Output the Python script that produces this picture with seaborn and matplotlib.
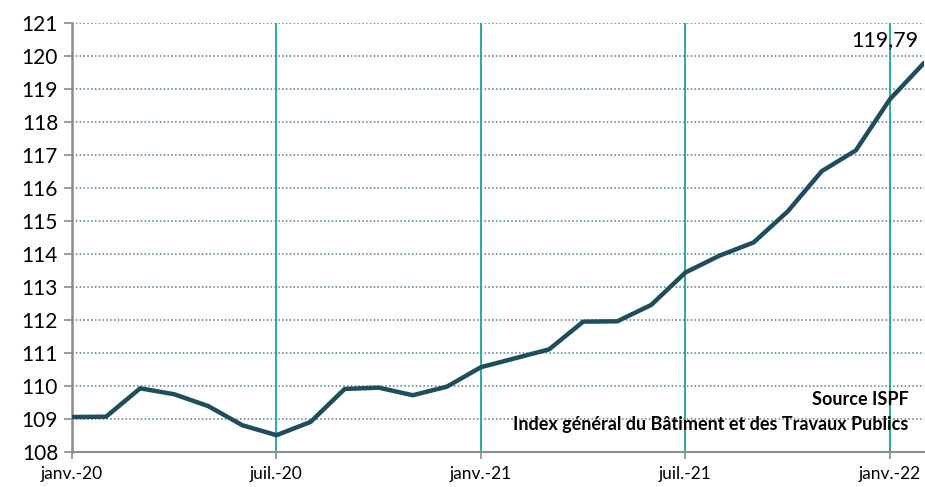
import matplotlib
matplotlib.use("Agg")
import matplotlib.pyplot as plt
import seaborn as sns
import pandas as pd

months = ["janv.-20", "févr.-20", "mars-20", "avr.-20", "mai-20", "juin-20",
          "juil.-20", "août-20", "sept.-20", "oct.-20", "nov.-20", "déc.-20",
          "janv.-21", "févr.-21", "mars-21", "avr.-21", "mai-21", "juin-21",
          "juil.-21", "août-21", "sept.-21", "oct.-21", "nov.-21", "déc.-21",
          "janv.-22", "févr.-22"]
values = [109.06, 109.07, 109.93, 109.75, 109.39, 108.81,
          108.51, 108.91, 109.91, 109.95, 109.72, 109.98,
          110.57, 110.84, 111.11, 111.95, 111.96, 112.46,
          113.44, 113.95, 114.35, 115.29, 116.51, 117.14,
          118.69, 119.79]
tick_labels = ["janv.-20", "juil.-20", "janv.-21", "juil.-21", "janv.-22"]
y_ticks = list(range(108, 122))
last_label = "119,79"
source_text = "Source ISPF"
title_text = "Index général du Bâtiment et des Travaux Publics"

df = pd.DataFrame({"idx": range(len(months)), "mois": months, "valeur": values})

sns.set_theme(style="white")
plt.rcParams["font.family"] = ["Lato", "DejaVu Sans"]

fig = plt.figure(figsize=(9.25, 4.87), dpi=100)
ax = fig.add_axes([72/925, 35/487, (924-72)/925, (452-23)/487])

ax.set_ylim(108, 121)
ax.set_xlim(0, len(months) - 1)
ax.set_yticks(y_ticks)
ax.yaxis.grid(True, linestyle=(0, (1, 1.5)), color="#4f7f93", linewidth=1.1)
ax.xaxis.grid(False)

tick_pos = [months.index(t) for t in tick_labels]
for p in tick_pos[1:]:
    ax.axvline(p, color="#1aa592", linewidth=1.3, zorder=1)

sns.lineplot(data=df, x="idx", y="valeur", ax=ax, color="#1f4e5b",
             linewidth=3.2, zorder=3)

ax.set_xticks(tick_pos)
ax.set_xticklabels(tick_labels, fontsize=12.5)
ax.tick_params(axis="y", labelsize=15, length=6, width=1.2, color="#8c8c8c",
               left=True, pad=4, labelcolor="black")
ax.tick_params(axis="x", length=5, width=1.2, color="#8c8c8c", bottom=True, pad=5,
               labelcolor="black")
ax.set_xlabel("")
ax.set_ylabel("")

for s in ["top", "right"]:
    ax.spines[s].set_visible(False)
ax.spines["left"].set_color("#8c8c8c")
ax.spines["left"].set_linewidth(1.8)
ax.spines["bottom"].set_color("#8c8c8c")
ax.spines["bottom"].set_linewidth(1.5)

ax.text(len(months) - 1.17, values[-1] + 0.4, last_label, fontsize=15.5,
        ha="right", va="bottom", color="black")
ax.text(24.55, 109.6, source_text, fontsize=13, fontweight="bold",
        ha="right", va="center", color="black")
ax.text(24.55, 108.84, title_text, fontsize=13, fontweight="bold",
        ha="right", va="center", color="black")

fig.savefig("out.png", dpi=100)
